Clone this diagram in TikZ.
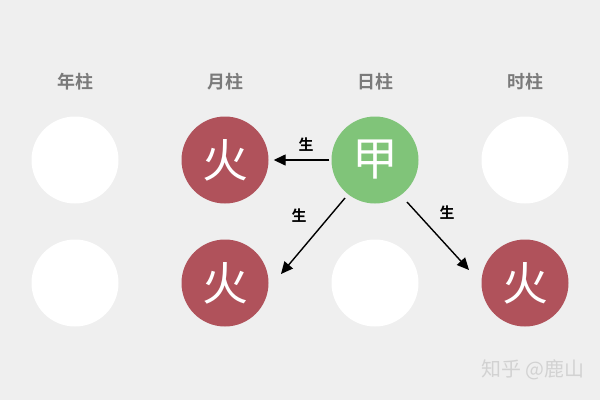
\documentclass[tikz,border=0pt]{standalone}
\usepackage{fontspec}
\newfontfamily\cjk{Noto Sans CJK SC}
\newfontfamily\cjkb{Noto Sans CJK SC Bold}
\usetikzlibrary{arrows.meta}
\definecolor{bg}{HTML}{EFEFEF}
\definecolor{firered}{HTML}{B0525B}
\definecolor{woodgreen}{HTML}{80C479}
\definecolor{headgray}{HTML}{7A7A7A}
\definecolor{wmgray}{HTML}{D2D2D2}
\tikzset{
  pillar/.style={circle, minimum size=87bp, inner sep=0pt},
  emptyp/.style={pillar, fill=white},
  firep/.style={pillar, fill=firered, text=white, font=\cjk\fontsize{46}{46}\selectfont},
  woodp/.style={pillar, fill=woodgreen, text=white, font=\cjk\fontsize{46}{46}\selectfont},
  head/.style={text=headgray, font=\cjkb\fontsize{18}{18}\selectfont},
  rel/.style={font=\cjkb\fontsize{15}{15}\selectfont, text=black},
  gen/.style={draw=black, line width=1.4bp, -{Triangle[length=12bp,width=11bp]}},
}
\begin{document}
\begin{tikzpicture}[x=1bp,y=-1bp]
\fill[bg] (0,0) rectangle (600,400);
\useasboundingbox (0,0) rectangle (600,400);
% headers
\node[head] (h1) at (75,82) {年柱};
\node[head] (h2) at (225,82) {月柱};
\node[head] (h3) at (375,82) {日柱};
\node[head] (h4) at (525,82) {时柱};
% row 1
\node[emptyp] (c11) at (75,160) {};
\node[firep] (c21) at (225,160) {火};
\node[woodp] (c31) at (375,160) {甲};
\node[emptyp] (c41) at (525,160) {};
% row 2
\node[emptyp] (c12) at (75,283) {};
\node[firep] (c22) at (225,283) {火};
\node[emptyp] (c32) at (375,283) {};
\node[firep] (c42) at (525,283) {火};
% arrow ends
\coordinate (e2) at ([shift={(56,-9)}]c22.center);
\coordinate (e3) at ([shift={(-56,-13)}]c42.center);
\coordinate (s2) at ([shift={(-30,38)}]c31.center);
\coordinate (s3) at ([shift={(32,42)}]c31.center);
\draw[gen, shorten <=2bp, shorten >=5bp] (c31.west) -- (c21.east);
\draw[gen] (s2) -- (e2);
\draw[gen] (s3) -- (e3);
% labels
\node[rel] (l1) at (306,145) {生};
\node[rel] (l2) at (299,216) {生};
\node[rel] (l3) at (447,213) {生};
% watermark
\node[anchor=west, text=wmgray, font=\cjk\fontsize{20}{20}\selectfont, inner sep=0pt] (wm) at (481,370) {知乎 @鹿山};
\end{tikzpicture}
\end{document}
